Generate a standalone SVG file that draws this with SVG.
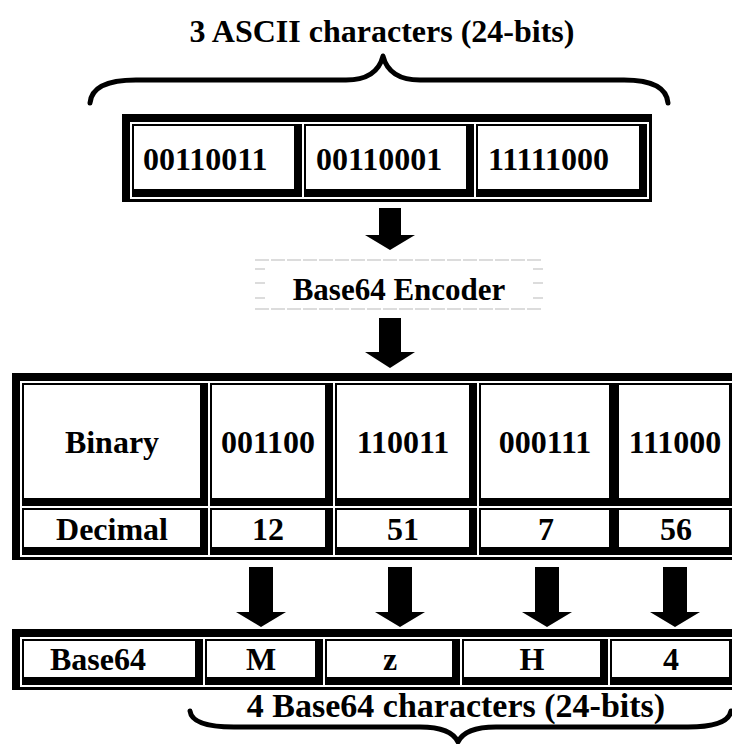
<svg xmlns="http://www.w3.org/2000/svg" width="732" height="744" viewBox="0 0 732 744">
<style>
.b{fill:#000}
.w{fill:#fff}
.t{font-family:"Liberation Serif","Times New Roman",serif;font-weight:bold;font-size:32px;fill:#000}
.m{text-anchor:middle}
.brace{fill:none;stroke:#000;stroke-width:5;stroke-linecap:round;stroke-linejoin:round}
.dash{fill:none;stroke:#dcdcdc;stroke-width:2}
</style>
<rect width="732" height="744" fill="#fff"/>

<g id="title-top">
<text class="t m" x="382" y="42">3 ASCII characters (24-bits)</text>
<path class="brace" d="M 90 103 Q 92 80 136 80 L 346 80 Q 377 80 383 56 Q 389 80 420 80 L 624 80 Q 666 80 668 103"/>
</g>

<g id="ascii-table">
<rect class="b" x="122" y="114" width="530" height="88"/>
<rect class="w" x="130" y="122" width="519" height="77"/>
<g id="ascii-1"><rect class="b" x="132" y="124" width="170" height="73"/><rect class="w" x="134" y="126" width="160" height="63"/><text class="t" x="143" y="170">00110011</text></g>
<g id="ascii-2"><rect class="b" x="304" y="124" width="170" height="73"/><rect class="w" x="306" y="126" width="160" height="63"/><text class="t" x="316" y="170">00110001</text></g>
<g id="ascii-3"><rect class="b" x="476" y="124" width="171" height="73"/><rect class="w" x="478" y="126" width="161" height="63"/><text class="t" x="488" y="170">11111000</text></g>
</g>

<g id="encoder">
<path class="dash" d="M255 260 H543 M255 309 H543 M255 269 H265 M255 283 H265 M255 298 H265 M533 269 H543 M533 283 H543 M533 298 H543" stroke-dasharray="14 2"/>
<text class="t m" x="399" y="300" style="font-size:31px">Base64 Encoder</text>
</g>

<g id="split-table">
<rect class="b" x="12" y="373" width="740" height="187"/>
<rect class="w" x="20" y="381" width="729" height="176"/>
<g id="row-binary">
<g id="bin-label"><rect class="b" x="22" y="383" width="186" height="123"/><rect class="w" x="24" y="385" width="176" height="113"/><text class="t m" x="112" y="453">Binary</text></g>
<g id="bin-1"><rect class="b" x="210" y="383" width="123" height="123"/><rect class="w" x="212" y="385" width="113" height="113"/><text class="t m" x="268" y="453">001100</text></g>
<g id="bin-2"><rect class="b" x="335" y="383" width="142" height="123"/><rect class="w" x="337" y="385" width="132" height="113"/><text class="t m" x="403" y="453">110011</text></g>
<g id="bin-3"><rect class="b" x="479" y="383" width="138" height="123"/><rect class="w" x="481" y="385" width="128" height="113"/><text class="t m" x="545" y="453">000111</text></g>
<g id="bin-4"><rect class="b" x="617" y="383" width="120" height="123"/><rect class="w" x="619" y="385" width="110" height="113"/><text class="t m" x="675" y="453">111000</text></g>
</g>
<g id="row-decimal">
<g id="dec-label"><rect class="b" x="22" y="508" width="186" height="47"/><rect class="w" x="24" y="510" width="176" height="37"/><text class="t m" x="112" y="540">Decimal</text></g>
<g id="dec-1"><rect class="b" x="210" y="508" width="123" height="47"/><rect class="w" x="212" y="510" width="113" height="37"/><text class="t m" x="268" y="540">12</text></g>
<g id="dec-2"><rect class="b" x="335" y="508" width="142" height="47"/><rect class="w" x="337" y="510" width="132" height="37"/><text class="t m" x="403" y="540">51</text></g>
<g id="dec-3"><rect class="b" x="479" y="508" width="138" height="47"/><rect class="w" x="481" y="510" width="128" height="37"/><text class="t m" x="546" y="540">7</text></g>
<g id="dec-4"><rect class="b" x="617" y="508" width="120" height="47"/><rect class="w" x="619" y="510" width="110" height="37"/><text class="t m" x="676" y="540">56</text></g>
</g>
</g>

<g id="base64-table">
<rect class="b" x="12" y="629" width="740" height="61"/>
<rect class="w" x="20" y="637" width="729" height="50"/>
<g id="b64-label"><rect class="b" x="22" y="639" width="181" height="46"/><rect class="w" x="24" y="641" width="171" height="36"/><text class="t" x="50" y="670">Base64</text></g>
<g id="b64-1"><rect class="b" x="205" y="639" width="118" height="46"/><rect class="w" x="207" y="641" width="108" height="36"/><text class="t m" x="261" y="670">M</text></g>
<g id="b64-2"><rect class="b" x="325" y="639" width="135" height="46"/><rect class="w" x="327" y="641" width="125" height="36"/><text class="t m" x="390" y="670">z</text></g>
<g id="b64-3"><rect class="b" x="462" y="639" width="146" height="46"/><rect class="w" x="464" y="641" width="136" height="36"/><text class="t m" x="532" y="670">H</text></g>
<g id="b64-4"><rect class="b" x="610" y="639" width="127" height="46"/><rect class="w" x="612" y="641" width="117" height="36"/><text class="t m" x="671" y="670">4</text></g>
</g>

<g id="title-bottom">
<text class="t m" x="456" y="717" style="font-size:34px">4 Base64 characters (24-bits)</text>
<path class="brace" d="M 190 711 Q 192 727 234 727 L 420 727 Q 451 727 458 742 Q 465 727 496 727 L 688 727 Q 728 727 731 711"/>
</g>

<g id="connectors">
<polygon class="b" points="379,208 401,208 401,235 415,235 390,250 365,235 379,235"/>
<polygon class="b" points="379,318 401,318 401,352 415,352 390,368 365,352 379,352"/>
<polygon class="b" points="249,567 273,567 273,612 286,612 261,627 236,612 249,612"/>
<polygon class="b" points="388,567 412,567 412,612 425,612 400,627 375,612 388,612"/>
<polygon class="b" points="535,567 559,567 559,612 572,612 547,627 522,612 535,612"/>
<polygon class="b" points="663,567 687,567 687,612 700,612 675,627 650,612 663,612"/>
</g>
</svg>
